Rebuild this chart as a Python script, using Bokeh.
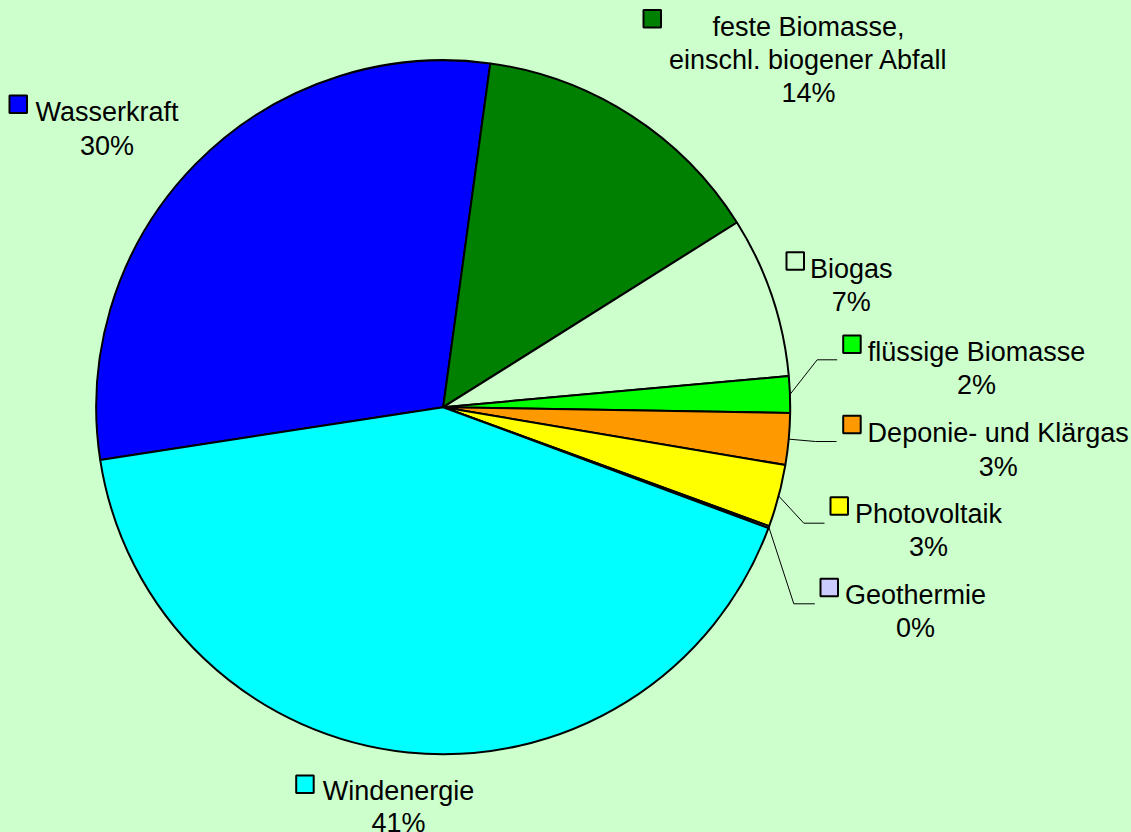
import math
from bokeh.plotting import figure
from bokeh.models import Range1d, ColumnDataSource
from bokeh.embed import file_html
from bokeh.resources import INLINE
from bokeh.core.properties import value

# ---------------- data ----------------
categories = ["Wasserkraft", "feste Biomasse,\neinschl. biogener Abfall", "Biogas",
              "flüssige Biomasse", "Deponie- und Klärgas", "Photovoltaik",
              "Geothermie", "Windenergie"]
shares = [29.6, 13.9, 7.5, 1.7, 2.4, 2.9, 0.1, 41.9]
pct_labels = ["30%", "14%", "7%", "2%", "3%", "3%", "0%", "41%"]

# ---------------- style / layout ----------------
BG = "#CCFFCC"
colors = ["#0000FF", "#008000", BG, "#00FF00", "#FF9900", "#FFFF00", "#CCCCFF", "#00FFFF"]
W, H = 1131, 832
CX, CY, R = 442.7, 406.7, 347.0          # reference pixel coords
START_CW = 261.24                        # clockwise degrees from 12 o'clock
FONT = value("Liberation Sans")
FS = "27px"
LINE_H = 33.3
KEY = 17.5

# label layout: text centre x, first baseline y, key left, key top (pixel coords)
label_cx = [106.5, 808.0, 850.8, 976.0, 997.7, 928.0, 915.0, 398.0]
label_base = [111.7, 26.0, 268.3, 351.0, 432.7, 513.3, 594.3, 790.0]
key_left = [9.0, 643.0, 786.0, 842.7, 842.7, 830.0, 820.0, 295.7]
key_top = [95.0, 9.5, 251.7, 335.0, 415.3, 496.7, 578.3, 775.0]
line_h = [LINE_H] * 7 + [32.0]
# leader lines: slice index, elbow, end
leader_idx = [3, 4, 5, 6]
leader_elbow = [(816.7, 359.3), (815.0, 441.0), (803.3, 522.7), (793.3, 603.3)]
leader_end = [(836.7, 359.3), (836.0, 441.0), (824.0, 522.7), (814.3, 603.3)]


def Y(py):
    return H - py


p = figure(width=W, height=H, output_backend="svg", toolbar_location=None,
           x_range=Range1d(0, W), y_range=Range1d(0, H),
           min_border=0, outline_line_color=None,
           background_fill_color=BG, border_fill_color=BG)
p.axis.visible = False
p.grid.visible = False

total = sum(shares)
starts, ends, mids = [], [], []
theta = START_CW
for s in shares:
    span = 360.0 * s / total
    starts.append(math.radians(90 - theta))
    ends.append(math.radians(90 - (theta + span)))
    mids.append(theta + span / 2)
    theta += span

src = ColumnDataSource(dict(x=[CX] * len(shares), y=[Y(CY)] * len(shares),
                            sa=starts, ea=ends, color=colors))
p.wedge(x="x", y="y", radius=R, start_angle="sa", end_angle="ea", direction="clock",
        fill_color="color", line_color="black", line_width=2, source=src)

# leader lines
xs, ys = [], []
for i, el, en in zip(leader_idx, leader_elbow, leader_end):
    a = math.radians(mids[i])
    sx = CX + R * math.sin(a)
    sy = CY - R * math.cos(a)
    xs.append([sx, el[0], en[0]])
    ys.append([Y(sy), Y(el[1]), Y(en[1])])
p.multi_line(xs=xs, ys=ys, line_color="black", line_width=1)

# legend keys
p.quad(left=key_left, right=[k + KEY for k in key_left],
       top=[Y(t) for t in key_top], bottom=[Y(t + KEY) for t in key_top],
       fill_color=colors, line_color="black", line_width=2)

# labels
tx, ty, tt = [], [], []
for i, name in enumerate(categories):
    lines = name.split("\n") + [pct_labels[i]]
    for j, ln in enumerate(lines):
        tx.append(label_cx[i])
        ty.append(Y(label_base[i] + j * line_h[i]))
        tt.append(ln)
p.text(x=tx, y=ty, text=tt, text_align="center", text_baseline="alphabetic",
       text_font=FONT, text_font_size=FS, text_color="black")

html = file_html(p, INLINE)
html = html.replace("<head>",
                    "<head><style>html,body{margin:0;padding:0;overflow:hidden;background:%s;}</style>" % BG, 1)
open("out.html", "w").write(html)
